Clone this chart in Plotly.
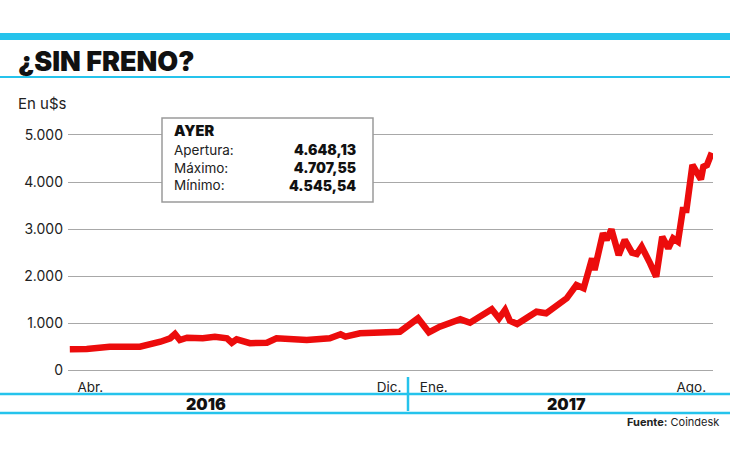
import plotly.graph_objects as go

# ---- data ----
dates = ["2016-03-22","2016-04-05","2016-04-24","2016-05-19","2016-06-05","2016-06-13","2016-06-17",
         "2016-06-21","2016-06-27","2016-07-10","2016-07-20","2016-07-30","2016-08-03","2016-08-07",
         "2016-08-18","2016-09-01","2016-09-09","2016-10-04","2016-10-23","2016-11-01","2016-11-05",
         "2016-11-17","2016-12-20","2017-01-04","2017-01-13","2017-01-22","2017-02-08","2017-02-16",
         "2017-03-06","2017-03-12","2017-03-17","2017-03-21","2017-03-27","2017-04-12","2017-04-20",
         "2017-05-07","2017-05-15","2017-05-21","2017-05-28","2017-05-30","2017-06-06","2017-06-09",
         "2017-06-13","2017-06-19","2017-06-24","2017-06-30","2017-07-04","2017-07-08","2017-07-15",
         "2017-07-20","2017-07-25","2017-07-30","2017-08-03","2017-08-07","2017-08-11","2017-08-14",
         "2017-08-19","2017-08-26","2017-08-28","2017-08-31","2017-09-04"]
prices = [450, 456, 505, 505, 611, 684, 775, 648, 697, 684, 718, 684, 590, 662, 580, 590, 684, 648,
          684, 769, 718, 790, 824, 1108, 811, 930, 1087, 1015, 1299, 1108, 1284, 1057, 987, 1248, 1214,
          1533, 1815, 1745, 2382, 2134, 2913, 2771, 2998, 2452, 2771, 2501, 2473, 2628, 2276, 1992,
          2841, 2594, 2806, 2735, 3408, 3408, 4363, 4059, 4327, 4363, 4624]

y_ticks = [0, 1000, 2000, 3000, 4000, 5000]
month_ticks = ["2016-04-08", "2016-12-11", "2017-01-17", "2017-08-18"]
month_labels = ["Abr.", "Dic.", "Ene.", "Ago."]
years = ["2016", "2017"]

title = "¿SIN FRENO?"
unit = "En u$s"
box_title = "AYER"
box_labels = ["Apertura:", "Máximo:", "Mínimo:"]
box_values = ["4.648,13", "4.707,55", "4.545,54"]
source_bold = "Fuente:"
source_text = "Coindesk"

# ---- layout geometry (pixels) ----
W, H = 730, 460
L, R, T, B = 68, 17, 120, 86   # plot area: x 68..713, y 120..374
PW, PH = W - L - R, H - T - B

def px(x):
    return (x - L) / PW

def py(y):
    return (H - B - y) / PH

CYAN = "#25c3ec"
RED = "#ec0c0c"
FONT = "Inter"

fig = go.Figure()
fig.add_trace(go.Scatter(
    x=dates, y=prices, mode="lines",
    line=dict(color=RED, width=6.5, shape="linear"),
    hoverinfo="skip", showlegend=False,
))

shapes = []
shapes.append(dict(type="rect", xref="paper", yref="paper", x0=px(0), x1=px(W), y0=py(40), y1=py(33),
                   fillcolor=CYAN, line=dict(width=0), layer="above"))
shapes.append(dict(type="line", xref="paper", yref="paper", x0=px(0), x1=px(W), y0=py(77), y1=py(77),
                   line=dict(color=CYAN, width=2)))
for yy in (394, 413):
    shapes.append(dict(type="line", xref="paper", yref="paper", x0=px(0), x1=px(W), y0=py(yy), y1=py(yy),
                       line=dict(color=CYAN, width=2.5)))
shapes.append(dict(type="line", xref="paper", yref="paper", x0=px(408), x1=px(408), y0=py(377), y1=py(411),
                   line=dict(color=CYAN, width=2.5)))
shapes.append(dict(type="rect", xref="paper", yref="paper", x0=px(162), x1=px(373), y0=py(202), y1=py(118),
                   fillcolor="white", line=dict(color="#9a9a9a", width=1.5), layer="above"))

ann = []
ann.append(dict(text=title, x=px(16), y=py(62), xref="paper", yref="paper", xanchor="left", yanchor="middle",
                showarrow=False, font=dict(family=FONT, size=27, color="#111", weight=900)))
ann.append(dict(text=unit, x=px(16), y=py(104), xref="paper", yref="paper", xanchor="left", yanchor="middle",
                showarrow=False, font=dict(family=FONT, size=15, color="#222")))
ann.append(dict(text=box_title, x=px(172), y=py(130), xref="paper", yref="paper", xanchor="left",
                yanchor="middle", showarrow=False,
                font=dict(family=FONT, size=14.5, color="#111", weight=900)))
# label column and value column each as one multi-line text
ann.append(dict(text="<br>".join(box_labels), x=px(172), y=py(167), xref="paper", yref="paper",
                xanchor="left", yanchor="middle", align="left", showarrow=False,
                font=dict(family=FONT, size=13.5, color="#222")))
ann.append(dict(text="<br>".join(box_values), x=px(358), y=py(167), xref="paper", yref="paper",
                xanchor="right", yanchor="middle", align="right", showarrow=False,
                font=dict(family=FONT, size=14, color="#111", weight=900)))
for yr, cx in zip(years, (206, 566)):
    ann.append(dict(text=yr, x=px(cx), y=py(404), xref="paper", yref="paper", xanchor="center",
                    yanchor="middle", showarrow=False, font=dict(family=FONT, size=16, color="#111", weight=900)))
ann.append(dict(text=f"<b>{source_bold}</b> {source_text}", x=px(721), y=py(422), xref="paper", yref="paper",
                xanchor="right", yanchor="middle", showarrow=False, font=dict(family=FONT, size=11, color="#222")))

fig.update_layout(
    width=W, height=H,
    margin=dict(l=L, r=R, t=T, b=B, pad=0),
    paper_bgcolor="white", plot_bgcolor="white",
    separators=",.",
    shapes=shapes, annotations=ann,
    xaxis=dict(range=["2016-03-20 12:00", "2017-09-05"], showgrid=False, zeroline=False, showline=False,
               tickmode="array", tickvals=month_ticks, ticktext=month_labels, ticks="",
               ticklabelstandoff=3,
               tickfont=dict(family=FONT, size=13.5, color="#222")),
    yaxis=dict(range=[-74, 5318], tickmode="array", tickvals=y_ticks, tickformat=",d",
               showgrid=True, gridcolor="#a8a8a8", gridwidth=1, zeroline=False, showline=False, ticks="",
               ticklabelstandoff=4,
               tickfont=dict(family=FONT, size=14, color="#222")),
)

fig.write_html("out.html")
